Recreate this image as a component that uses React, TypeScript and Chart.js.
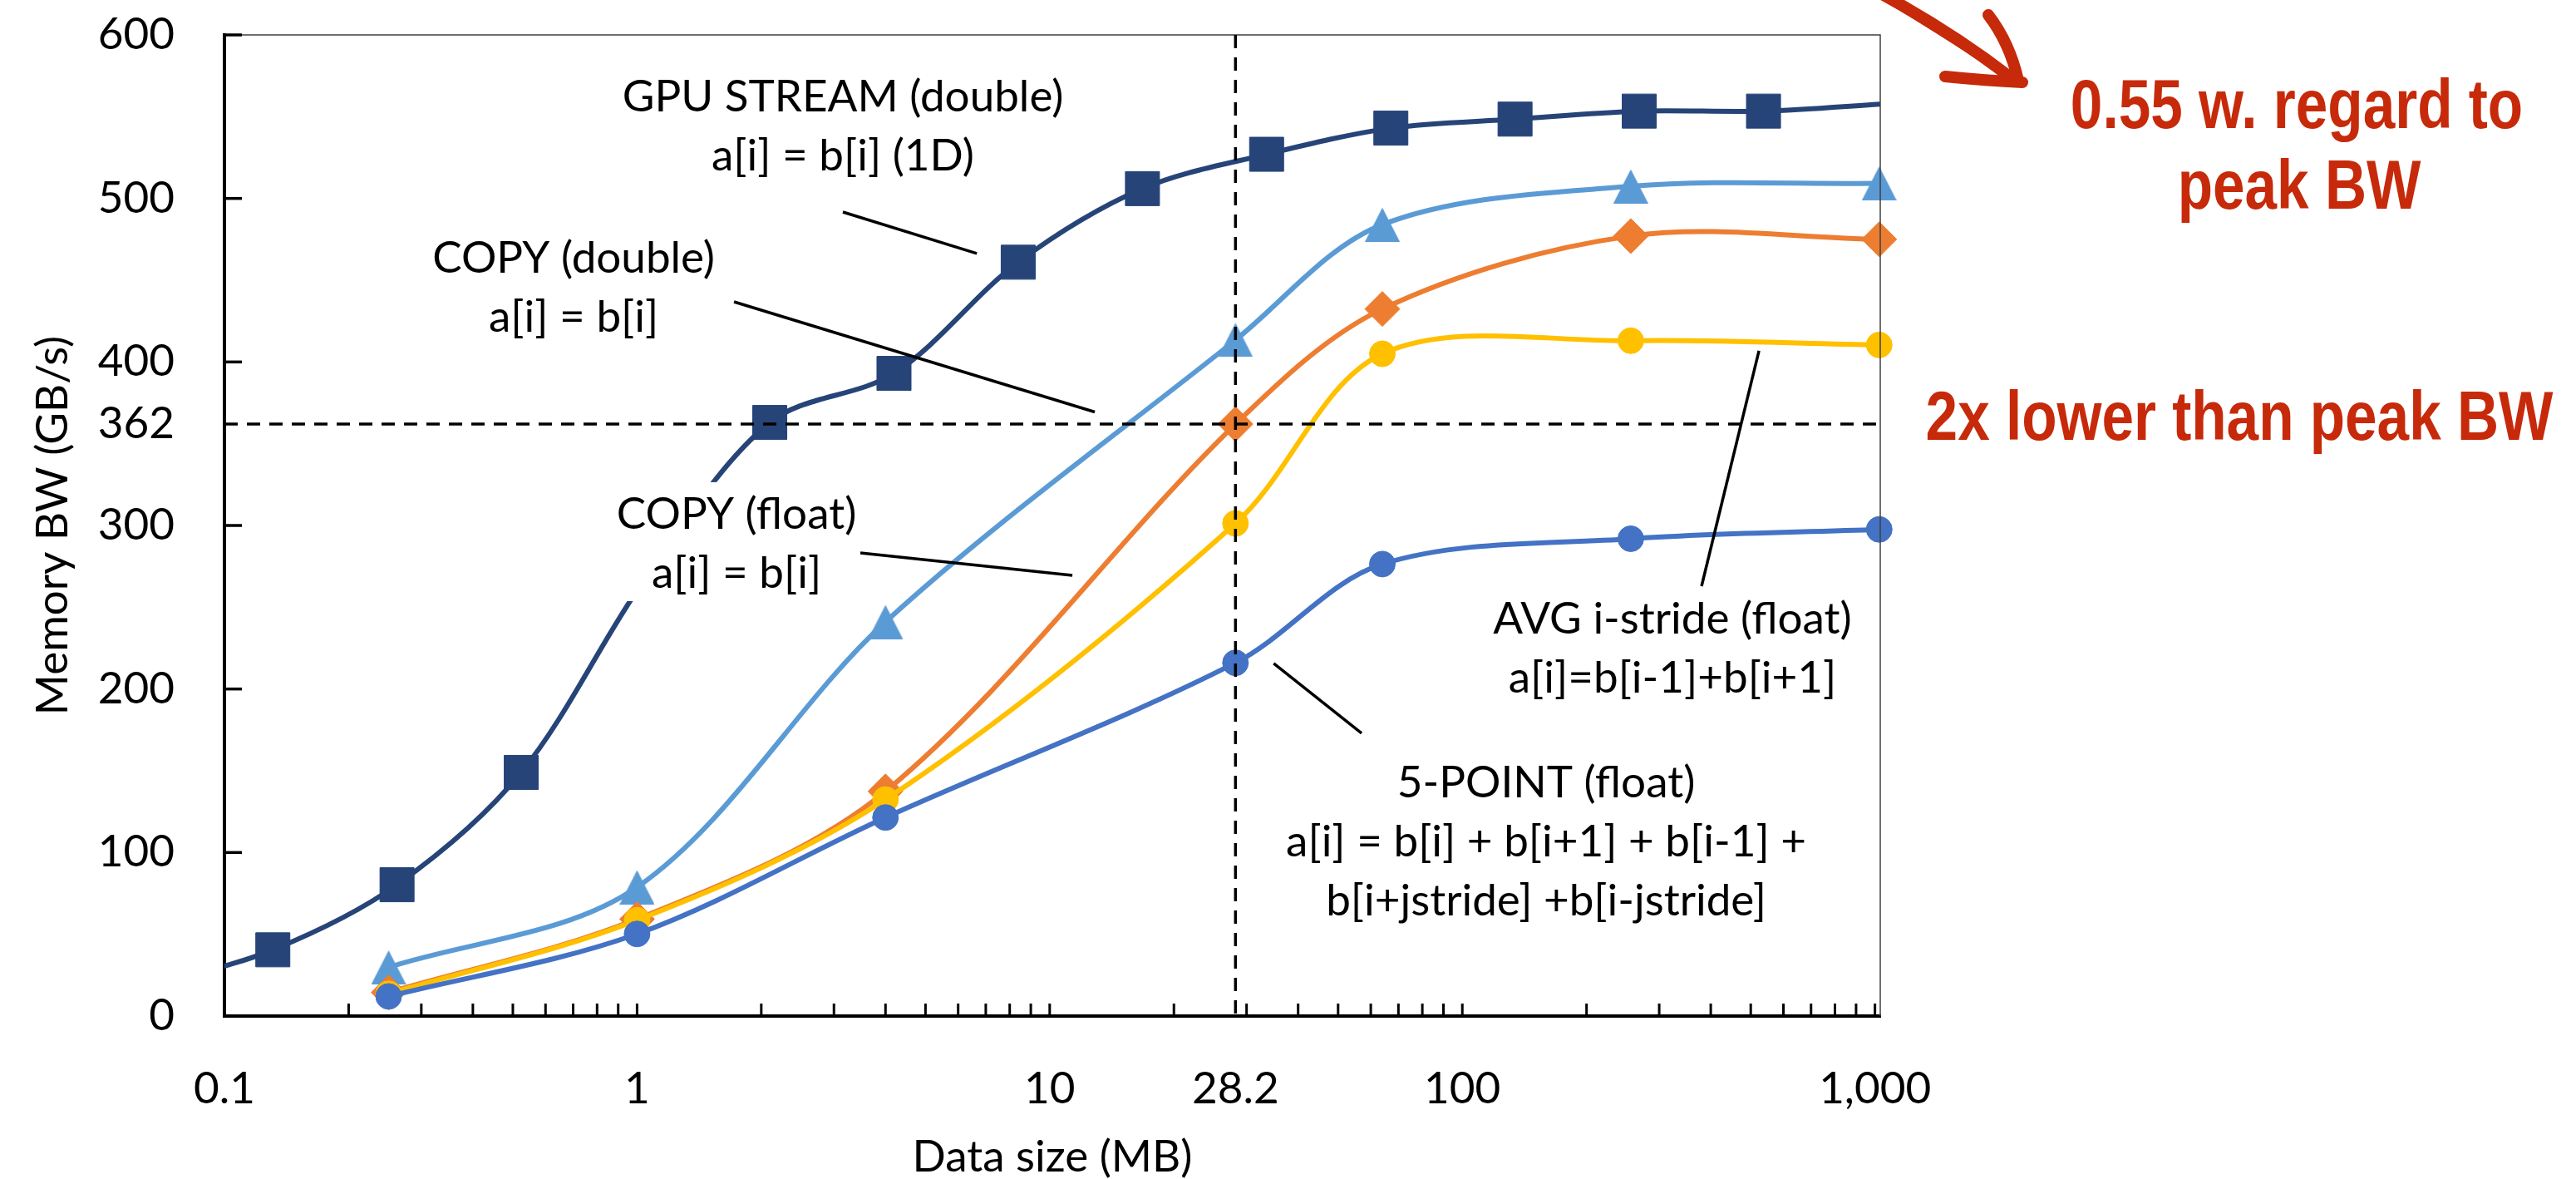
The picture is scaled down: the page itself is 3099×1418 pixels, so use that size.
import React, { useEffect, useRef } from 'react';
import { Chart, registerables } from 'chart.js';

Chart.register(...registerables);

// ---------- data ----------
// GPU STREAM (double) sizes in MB (2^k bytes), first and last lie outside the axis
const streamSizes = [0.0655, 0.131, 0.262, 0.524, 1.049, 2.097, 4.194, 8.389, 16.78, 33.55, 67.11, 134.2, 268.4, 536.9, 1073.7];
const gpuStream = [18, 40.5, 80.3, 149, 268, 363, 393, 461, 506, 527, 543, 548.5, 553.4, 553.4, 558];

// kernel sizes in MB
const kernelSizes = [0.25, 1, 4, 28.2, 64, 256, 1024];
const copyDouble = [29.8, 78.8, 241, 413.4, 484, 507.4, 509.2];
const copyFloat = [14.4, 59.3, 137.4, 362, 432.4, 477, 475];
const avgStride = [13.6, 58.6, 132.4, 301.3, 405, 413, 410.4];
const fivePoint = [12, 50.2, 121.4, 216, 276.4, 291.9, 297.6];

// axes
const xMin = 0.1;
const xMax = 1030;
const yMin = 0;
const yMax = 600;
const xLabelValues = [0.1, 1, 10, 28.2, 100, 1000];
const xLabelTexts = ['0.1', '1', '10', '28.2', '100', '1,000'];
const yTickValues = [0, 100, 200, 300, 362, 400, 500, 600];
const yTickMarks = [0, 100, 200, 300, 400, 500, 600];
const xDecades = [0.1, 1, 10, 100, 1000];
const xMultipliers = [1, 2, 3, 4, 5, 6, 7, 8, 9];

// reference lines
const halfPeakBW = 362;
const cacheSizeMB = 28.2;

// annotations (anchored in data space: x in MB, y in GB/s of first baseline)
const annotations = [
  { lines: ['GPU STREAM (double)', 'a[i] = b[i] (1D)'], x: 3.153, y: 553.2, from: [3.153, 491.7], to: [6.66, 466.3] },
  { lines: ['COPY (double)', 'a[i] = b[i]'], x: 0.702, y: 454.6, from: [1.718, 436.8], to: [12.86, 369.4] },
  { lines: ['COPY (float)', 'a[i] = b[i]'], x: 1.742, y: 298, from: [3.476, 283.2], to: [11.35, 269.5] },
  { lines: ['AVG i-stride (float)', 'a[i]=b[i-1]+b[i+1]'], x: 323, y: 233.9, from: [523.5, 406.8], to: [380, 262.9] },
  { lines: ['5-POINT (float)', 'a[i] = b[i] + b[i+1] + b[i-1] +', 'b[i+jstride] +b[i-jstride]'], x: 159.6, y: 133.7, from: [34.9, 215.6], to: [57.0, 172.9] },
];

const redNotes = [
  { text: '0.55 w. regard to', x: 2763, y: 154 },
  { text: 'peak BW', x: 2766, y: 251 },
  { text: '2x lower than peak BW', x: 2694, y: 529 },
];

const NAVY = '#264478';
const LIGHT_BLUE = '#5B9BD5';
const ORANGE = '#ED7D31';
const YELLOW = '#FFC000';
const BLUE = '#4472C4';
const RED = '#C62A0A';
const FONT = 'Lato, "Open Sans", sans-serif';

function pts(xs: number[], ys: number[]) {
  return xs.map((x, i) => ({ x, y: ys[i] }));
}

function triangleMarker(color: string, w: number, h: number) {
  const c = document.createElement('canvas');
  c.width = w;
  c.height = h;
  const g = c.getContext('2d')!;
  g.fillStyle = color;
  g.beginPath();
  g.moveTo(w / 2, 0);
  g.lineTo(w, h);
  g.lineTo(0, h);
  g.closePath();
  g.fill();
  return c;
}

const overlayPlugin = {
  id: 'overlay',
  afterDatasetsDraw(chart: any) {
    const { ctx, chartArea: a, scales } = chart;
    const xs = scales.x;
    const ys = scales.y;
    ctx.save();

    // thin frame on top and right
    ctx.strokeStyle = '#404040';
    ctx.lineWidth = 1.5;
    ctx.beginPath();
    ctx.moveTo(a.left, a.top);
    ctx.lineTo(a.right, a.top);
    ctx.lineTo(a.right, a.bottom);
    ctx.stroke();

    // inward tick marks
    ctx.strokeStyle = '#000';
    ctx.lineWidth = 3.5;
    for (const v of yTickMarks) {
      const py = ys.getPixelForValue(v);
      ctx.beginPath();
      ctx.moveTo(a.left, py);
      ctx.lineTo(a.left + 21, py);
      ctx.stroke();
    }
    ctx.lineWidth = 3;
    for (const d of xDecades) {
      for (const m of xMultipliers) {
        const v = d * m;
        if (v > xMax || v <= xMin) continue;
        const px = xs.getPixelForValue(v);
        ctx.beginPath();
        ctx.moveTo(px, a.bottom);
        ctx.lineTo(px, a.bottom - 15);
        ctx.stroke();
      }
    }

    // dashed reference lines
    ctx.setLineDash([16, 11]);
    ctx.lineWidth = 3.5;
    const hy = ys.getPixelForValue(halfPeakBW);
    ctx.beginPath();
    ctx.moveTo(a.left, hy);
    ctx.lineTo(a.right, hy);
    ctx.stroke();
    const vx = xs.getPixelForValue(cacheSizeMB);
    ctx.beginPath();
    ctx.moveTo(vx, a.top);
    ctx.lineTo(vx, a.bottom);
    ctx.stroke();
    ctx.setLineDash([]);

    // annotation text boxes
    ctx.font = `53px ${FONT}`;
    ctx.textAlign = 'center';
    ctx.textBaseline = 'alphabetic';
    const lineGap = 71;
    for (const an of annotations) {
      const cx = xs.getPixelForValue(an.x);
      const by = ys.getPixelForValue(an.y);
      const w = Math.max(...an.lines.map((l) => ctx.measureText(l).width));
      const top = by - 38 - 18;
      const bottom = by + lineGap * (an.lines.length - 1) + 16;
      ctx.fillStyle = '#fff';
      ctx.fillRect(cx - w / 2 - 12, top, w + 24, bottom - top);
      ctx.fillStyle = '#000';
      an.lines.forEach((l, i) => ctx.fillText(l, cx, by + i * lineGap));
    }

    // leader lines
    ctx.strokeStyle = '#000';
    ctx.lineWidth = 3.5;
    for (const an of annotations) {
      ctx.beginPath();
      ctx.moveTo(xs.getPixelForValue(an.from[0]), ys.getPixelForValue(an.from[1]));
      ctx.lineTo(xs.getPixelForValue(an.to[0]), ys.getPixelForValue(an.to[1]));
      ctx.stroke();
    }

    // red notes
    ctx.fillStyle = RED;
    ctx.font = 'bold 84px "Liberation Sans", Arial, sans-serif';
    for (const n of redNotes) {
      ctx.save();
      ctx.translate(n.x, n.y);
      ctx.scale(0.825, 1);
      ctx.fillText(n.text, 0, 0);
      ctx.restore();
    }

    // hand-drawn red arrow
    ctx.strokeStyle = RED;
    ctx.lineCap = 'round';
    ctx.lineJoin = 'round';
    ctx.lineWidth = 14;
    ctx.beginPath();
    ctx.moveTo(2266, -6);
    ctx.quadraticCurveTo(2350, 40, 2420, 94);
    ctx.stroke();
    ctx.beginPath();
    ctx.moveTo(2392, 18);
    ctx.quadraticCurveTo(2418, 52, 2428, 97);
    ctx.stroke();
    ctx.beginPath();
    ctx.moveTo(2340, 92);
    ctx.quadraticCurveTo(2390, 97, 2433, 99);
    ctx.stroke();
    ctx.lineWidth = 6;
    ctx.beginPath();
    ctx.moveTo(2280, 6);
    ctx.quadraticCurveTo(2355, 52, 2412, 90);
    ctx.stroke();

    ctx.restore();
  },
};

export default function App() {
  const ref = useRef<HTMLCanvasElement>(null);

  useEffect(() => {
    document.body.style.margin = '0';
    document.body.style.overflow = 'hidden';
    const canvas = ref.current!;
    const tri = triangleMarker(LIGHT_BLUE, 42, 41);

    const common = {
      borderWidth: 6,
      tension: 0.33,
      fill: false,
      pointBorderWidth: 1,
      clip: false as const,
    };

    const chart = new Chart(canvas, {
      type: 'line',
      data: {
        datasets: [
          { ...common, label: '5-POINT (float)', data: pts(kernelSizes, fivePoint), borderColor: BLUE, backgroundColor: BLUE, pointBackgroundColor: BLUE, pointBorderColor: BLUE, pointStyle: 'circle', pointRadius: 15.5 },
          { ...common, label: 'AVG i-stride (float)', data: pts(kernelSizes, avgStride), borderColor: YELLOW, backgroundColor: YELLOW, pointBackgroundColor: YELLOW, pointBorderColor: YELLOW, pointStyle: 'circle', pointRadius: 15.5 },
          { ...common, label: 'COPY (float)', data: pts(kernelSizes, copyFloat), borderColor: ORANGE, backgroundColor: ORANGE, pointBackgroundColor: ORANGE, pointBorderColor: ORANGE, pointStyle: 'rectRot', pointRadius: 21 },
          { ...common, label: 'COPY (double)', data: pts(kernelSizes, copyDouble), borderColor: LIGHT_BLUE, backgroundColor: LIGHT_BLUE, pointStyle: tri as any, pointRadius: 21 },
          {
            ...common,
            label: 'GPU STREAM (double)',
            data: pts(streamSizes, gpuStream),
            borderColor: NAVY,
            backgroundColor: NAVY,
            pointBackgroundColor: NAVY,
            pointBorderColor: NAVY,
            pointStyle: 'rect',
            pointRadius: (c: any) => (c.raw && c.raw.x >= xMin && c.raw.x <= xMax ? 29 : 0),
            clip: { left: 0, right: 0, top: false, bottom: false } as any,
          },
        ],
      },
      options: {
        responsive: false,
        animation: false,
        devicePixelRatio: 1,
        layout: { padding: { top: 42, right: 837, left: 0, bottom: 0 }, autoPadding: false },
        elements: { line: { capBezierPoints: false } },
        plugins: { legend: { display: false }, tooltip: { enabled: false } },
        scales: {
          x: {
            type: 'logarithmic',
            min: xMin,
            max: xMax,
            afterBuildTicks: (s: any) => {
              s.ticks = xLabelValues.map((v) => ({ value: v }));
            },
            afterFit: (s: any) => {
              s.height = 196;
              s.paddingLeft = 0;
              s.paddingRight = 0;
            },
            grid: { display: true, drawOnChartArea: false, drawTicks: false },
            border: { display: true, width: 4, color: '#000' },
            ticks: {
              autoSkip: false,
              maxRotation: 0,
              minRotation: 0,
              padding: 56,
              color: '#000',
              font: { family: FONT, size: 53 },
              callback: (v: any) => {
                const i = xLabelValues.indexOf(Number(v));
                return i >= 0 ? xLabelTexts[i] : '';
              },
            },
            title: {
              display: true,
              text: 'Data size (MB)',
              color: '#000',
              font: { family: FONT, size: 53, lineHeight: 1 },
              padding: { top: 0, bottom: 0 },
            },
          },
          y: {
            type: 'linear',
            min: yMin,
            max: yMax,
            afterBuildTicks: (s: any) => {
              s.ticks = yTickValues.map((v) => ({ value: v }));
            },
            afterFit: (s: any) => {
              s.width = 270;
              s.paddingTop = 0;
              s.paddingBottom = 0;
            },
            grid: { display: true, drawOnChartArea: false, drawTicks: false },
            border: { display: true, width: 4, color: '#000' },
            ticks: {
              autoSkip: false,
              padding: 60,
              color: '#000',
              font: { family: FONT, size: 53 },
            },
            title: {
              display: true,
              text: 'Memory BW (GB/s)',
              color: '#000',
              font: { family: FONT, size: 53, lineHeight: 1 },
              padding: { top: 37, bottom: 0 },
            },
          },
        },
      },
      plugins: [overlayPlugin],
    } as any);

    return () => chart.destroy();
  }, []);

  return (
    <div style={{ width: 3099, height: 1418, background: '#fff', position: 'relative' }}>
      <canvas ref={ref} width={3099} height={1418} style={{ display: 'block', width: 3099, height: 1418 }} />
    </div>
  );
}
